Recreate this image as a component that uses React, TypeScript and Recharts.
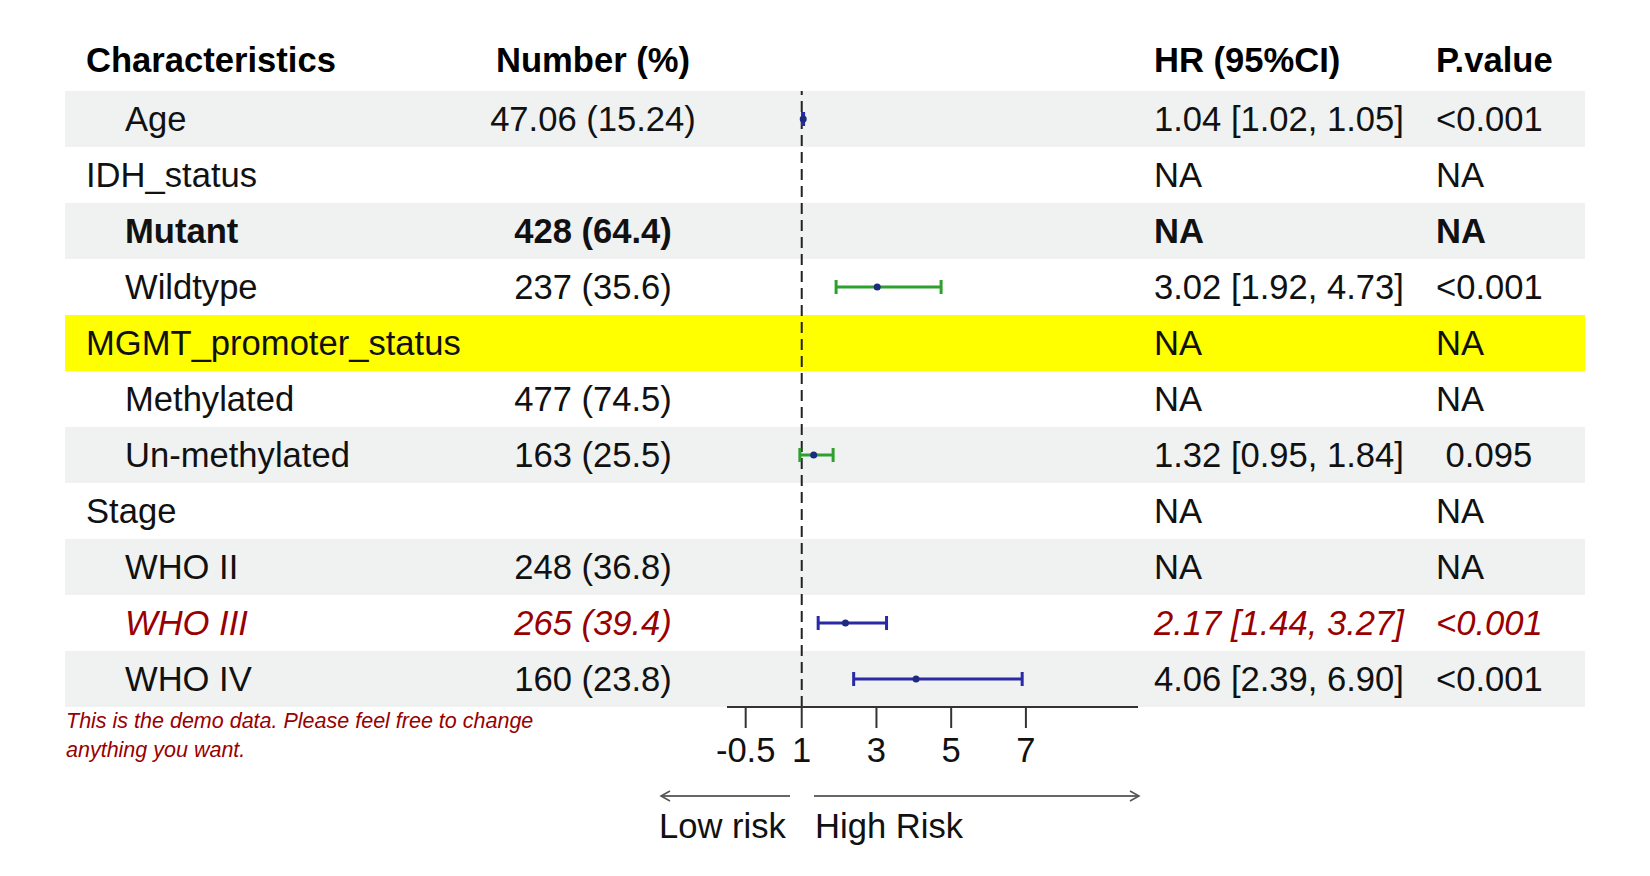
import React from 'react';
import { ScatterChart, Scatter, XAxis, YAxis, ErrorBar, ReferenceLine } from 'recharts';

// table rows, top to bottom
const labels = [
  'Age', 'IDH_status', 'Mutant', 'Wildtype', 'MGMT_promoter_status', 'Methylated',
  'Un-methylated', 'Stage', 'WHO II', 'WHO III', 'WHO IV',
];
const indented = [true, false, true, true, false, true, true, false, true, true, true];
const numbers = [
  '47.06 (15.24)', '', '428 (64.4)', '237 (35.6)', '', '477 (74.5)',
  '163 (25.5)', '', '248 (36.8)', '265 (39.4)', '160 (23.8)',
];
const hrText = [
  '1.04 [1.02, 1.05]', 'NA', 'NA', '3.02 [1.92, 4.73]', 'NA', 'NA',
  '1.32 [0.95, 1.84]', 'NA', 'NA', '2.17 [1.44, 3.27]', '4.06 [2.39, 6.90]',
];
const pText = ['<0.001', 'NA', 'NA', '<0.001', 'NA', 'NA', ' 0.095', 'NA', 'NA', '<0.001', '<0.001'];

// hazard ratios
const est = [1.04, null, null, 3.02, null, null, 1.32, null, null, 2.17, 4.06];
const lower = [1.02, null, null, 1.92, null, null, 0.95, null, null, 1.44, 2.39];
const upper = [1.05, null, null, 4.73, null, null, 1.84, null, null, 3.27, 6.9];
const ciGroup = ['blue', '', '', 'green', '', '', 'green', '', '', 'blue', 'blue'];

const xTicks = [-0.5, 1, 3, 5, 7];
const xDomain = [-1, 10];

const W = 1650;
const H = 876;
const FONT = '"Liberation Sans", Arial, Helvetica, sans-serif';
const FS = 34.6;
const ROW_TOP = 91;
const ROW_H = 56;
const PLOT_LEFT = 727;
const PLOT_RIGHT = 1138;
const BOLD_ROW = 2;
const HIGHLIGHT_ROW = 4;
const RED_ROW = 9;
const RED = '#990000';
const BLUE = '#2a2aa6';
const GREEN = '#2ea02e';
const DOT = '#1c2a80';

const points = labels
  .map((label, i) => ({
    label,
    y: i + 0.5,
    x: est[i],
    err: est[i] == null ? null : [est[i] - lower[i], upper[i] - est[i]],
    group: ciGroup[i],
  }))
  .filter((d) => d.x != null);

const bluePoints = points.filter((d) => d.group === 'blue');
const greenPoints = points.filter((d) => d.group === 'green');

const Dot = (props: any) => <circle cx={props.cx} cy={props.cy} r={3.5} fill={DOT} />;

// svg drops leading spaces, keep them visible
const keepSpace = (s: string) => s.replace(/^ +/, (m) => '\u00a0'.repeat(m.length));

function Table() {
  return (
    <svg width={W} height={H} style={{ position: 'absolute', left: 0, top: 0 }} fontFamily={FONT}>
      {labels.map((_, i) => {
        let fill = i % 2 === 0 ? '#eff2f1' : 'none';
        if (i === HIGHLIGHT_ROW) fill = '#ffff00';
        return <rect key={i} x={65} y={ROW_TOP + i * ROW_H} width={1520} height={ROW_H} fill={fill} />;
      })}
      <g fontSize={FS} fontWeight="bold" fill="#000">
        <text x={86} y={72}>Characteristics</text>
        <text x={593} y={72} textAnchor="middle">Number (%)</text>
        <text x={1154} y={72}>HR (95%CI)</text>
        <text x={1436} y={72}>P.value</text>
      </g>
      {labels.map((label, i) => {
        const y = ROW_TOP + i * ROW_H + ROW_H / 2 + 12;
        const red = i === RED_ROW;
        return (
          <g
            key={label}
            fontSize={FS}
            fill={red ? RED : '#111'}
            fontWeight={i === BOLD_ROW ? 'bold' : 'normal'}
            fontStyle={red ? 'italic' : 'normal'}
          >
            <text x={indented[i] ? 125 : 86} y={y}>{label}</text>
            <text x={593} y={y} textAnchor="middle">{numbers[i]}</text>
            <text x={1154} y={y}>{hrText[i]}</text>
            <text x={1436} y={y}>{keepSpace(pText[i])}</text>
          </g>
        );
      })}
      <g fontSize={21.5} fill={RED} fontStyle="italic">
        <text x={66} y={728}>This is the demo data. Please feel free to change</text>
        <text x={66} y={757}>anything you want.</text>
      </g>
      <defs>
        <marker id="arr" markerWidth={12} markerHeight={12} refX={10} refY={6} orient="auto" markerUnits="userSpaceOnUse">
          <path d="M1,1 L10,6 L1,11" fill="none" stroke="#555" strokeWidth={1.6} />
        </marker>
      </defs>
      <line x1={790} y1={796} x2={661} y2={796} stroke="#666" strokeWidth={2} markerEnd="url(#arr)" />
      <line x1={814} y1={796} x2={1139} y2={796} stroke="#666" strokeWidth={2} markerEnd="url(#arr)" />
      <g fontSize={FS} fill="#111">
        <text x={659} y={838}>Low risk</text>
        <text x={815} y={838}>High Risk</text>
      </g>
    </svg>
  );
}

export default function App() {
  return (
    <div style={{ position: 'absolute', left: 0, top: 0, width: W, height: H, background: '#fff' }}>
      <Table />
      <div style={{ position: 'absolute', left: 0, top: 0 }}>
        <ScatterChart
          width={W}
          height={H}
          margin={{ top: ROW_TOP, right: W - PLOT_RIGHT, bottom: H - (ROW_TOP + labels.length * ROW_H) - 60, left: PLOT_LEFT }}
        >
          <XAxis
            type="number"
            dataKey="x"
            domain={xDomain}
            ticks={xTicks}
            interval={0}
            allowDataOverflow
            height={60}
            tickSize={21}
            tickMargin={9}
            axisLine={{ stroke: '#333', strokeWidth: 2 }}
            tickLine={{ stroke: '#333', strokeWidth: 2 }}
            tick={{ fontSize: FS, fill: '#111', fontFamily: FONT }}
          />
          <YAxis type="number" dataKey="y" domain={[0, labels.length]} reversed hide />
          <ReferenceLine x={1} stroke="#222" strokeWidth={2} strokeDasharray="11 6" />
          <Scatter data={bluePoints} shape={<Dot />} isAnimationActive={false}>
            <ErrorBar dataKey="err" direction="x" width={7} stroke={BLUE} strokeWidth={3} />
          </Scatter>
          <Scatter data={greenPoints} shape={<Dot />} isAnimationActive={false}>
            <ErrorBar dataKey="err" direction="x" width={7} stroke={GREEN} strokeWidth={3} />
          </Scatter>
        </ScatterChart>
      </div>
    </div>
  );
}
